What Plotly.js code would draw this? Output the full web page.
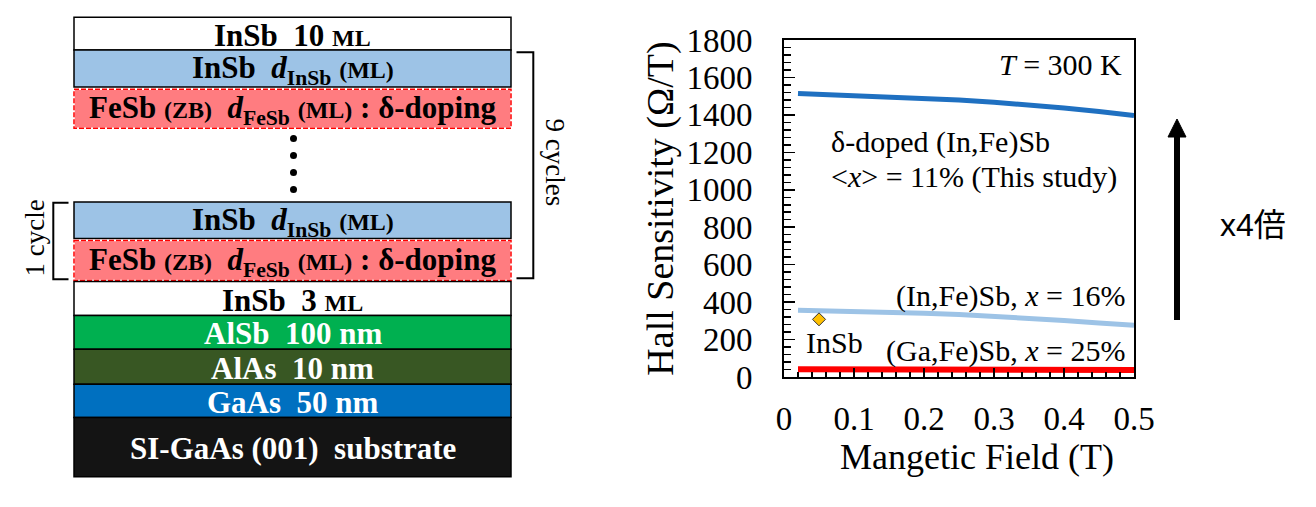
<!DOCTYPE html>
<html><head><meta charset="utf-8">
<script src="https://cdn.plot.ly/plotly-3.0.1.min.js"></script>
<style>html,body{margin:0;padding:0;background:#fff}#chart{width:1316px;height:507px}</style>
</head><body><div id="chart"></div>
<script>
// ---------- chart data ----------
const fieldT      = [0.02, 0.05, 0.1, 0.15, 0.2, 0.25, 0.3, 0.35, 0.4, 0.45, 0.5];
const deltaDoped  = [1514, 1510, 1504, 1497, 1489, 1479, 1467, 1453, 1437, 1418, 1396];
const inFeSb16    = [357, 355, 351, 347, 341, 334, 325, 314, 302, 289, 277];
const gaFeSb25    = [41, 41, 40, 40, 40, 39, 39, 38, 38, 37, 37];
const insbField   = [0.05];
const insbSens    = [308];
const yTickVals   = [0, 200, 400, 600, 800, 1000, 1200, 1400, 1600, 1800];
const xTickVals   = [0, 0.1, 0.2, 0.3, 0.4, 0.5];
const xTickText   = ['0', '0.1', '0.2', '0.3', '0.4', '0.5'];

// ---------- layer-stack labels ----------
const SM = "<span style='font-size:24px'>";
const layerLabels = [
  "<b>InSb\u00A0\u00A010 " + SM + "ML</span></b>",
  "<b>InSb\u00A0\u00A0<i>d</i><sub>InSb</sub> " + SM + "(ML)</span></b>",
  "<b>FeSb " + SM + "(ZB)</span>\u00A0\u00A0<i>d</i><sub>FeSb</sub> " + SM + "(ML)</span> : δ-doping</b>",
  "<b>InSb\u00A0\u00A0<i>d</i><sub>InSb</sub> " + SM + "(ML)</span></b>",
  "<b>FeSb " + SM + "(ZB)</span>\u00A0\u00A0<i>d</i><sub>FeSb</sub> " + SM + "(ML)</span> : δ-doping</b>",
  "<b>InSb\u00A0\u00A03 " + SM + "ML</span></b>",
  "<b>AlSb\u00A0\u00A0100 nm</b>",
  "<b>AlAs\u00A0\u00A010 nm</b>",
  "<b>GaAs\u00A0\u00A050 nm</b>",
  "<b>SI-GaAs (001)\u00A0\u00A0substrate</b>"
];
const layerFills      = ['#FFFFFF','#9DC3E6','#FF7C80','#9DC3E6','#FF7C80','#FFFFFF','#00B050','#385723','#0070C0','#141414'];
const layerTextColors = ['#000','#000','#000','#000','#000','#000','#FFF','#FFF','#FFF','#FFF'];
const layerDashed     = [false,false,true,false,true,false,false,false,false,false];

// ---------- geometry (pixels) ----------
const W = 1316, H = 507, L = 784, R = 1134, T = 40, B = 377;
const px = x => (x - L) / (R - L);
const py = y => (B - y) / (B - T);
const boxL = 74, boxR = 511;
const layerEdges = [[17.3,50],[50,87],[89.3,128.3],[202,238.5],[240.5,280.5],[281.5,315.5],[315.5,349.3],[349.3,384.3],[384.3,417.5],[417.5,476.7]];

const serif = "Liberation Serif";
const shapes = [];
const annotations = [];

layerEdges.forEach((e, i) => {
  if (layerDashed[i]) {
    shapes.push({type:'rect', xref:'paper', yref:'paper', x0:px(boxL), x1:px(boxR), y0:py(e[0]), y1:py(e[1]),
      fillcolor:layerFills[i], line:{color:'#FFFFFF', width:1.5}, layer:'above'});
    shapes.push({type:'rect', xref:'paper', yref:'paper', x0:px(boxL), x1:px(boxR), y0:py(e[0]), y1:py(e[1]),
      fillcolor:'rgba(0,0,0,0)', line:{color:'#FF0000', width:1.5, dash:'5px,2px'}, layer:'above'});
  } else {
    shapes.push({type:'rect', xref:'paper', yref:'paper', x0:px(boxL), x1:px(boxR), y0:py(e[0]), y1:py(e[1]),
      fillcolor:layerFills[i], line:{color:'#000000', width:1.5}, layer:'above'});
  }
  annotations.push({xref:'paper', yref:'paper', x:px((boxL+boxR)/2), y:py((e[0]+e[1])/2 + 1.5),
    text:layerLabels[i], showarrow:false, xanchor:'center', yanchor:'middle',
    font:{family:serif, size:31, color:layerTextColors[i]}});
});

// dots between cycles
[138.5, 155.5, 172.5, 189.5].forEach(yy => {
  shapes.push({type:'circle', xref:'paper', yref:'paper', x0:px(290), x1:px(297), y0:py(yy-3.5), y1:py(yy+3.5),
    fillcolor:'#000', line:{width:0}, layer:'above'});
});

// brackets
const pathOf = pts => pts.map((p, k) => (k ? 'L' : 'M') + px(p[0]) + ',' + py(p[1])).join(' ');
shapes.push({type:'path', xref:'paper', yref:'paper', path:pathOf([[516.5,52.3],[533.3,52.3],[533.3,278.3],[516.5,278.3]]),
  line:{color:'#000', width:2}, layer:'above'});
shapes.push({type:'path', xref:'paper', yref:'paper', path:pathOf([[68.5,202.7],[53.3,202.7],[53.3,279.3],[68.5,279.3]]),
  line:{color:'#000', width:2}, layer:'above'});
annotations.push({xref:'paper', yref:'paper', x:px(555), y:py(162.5), text:'9 cycles', textangle:90, showarrow:false,
  xanchor:'center', yanchor:'middle', font:{family:serif, size:27, color:'#000'}});
annotations.push({xref:'paper', yref:'paper', x:px(34), y:py(238.5), text:'1 cycle', textangle:-90, showarrow:false,
  xanchor:'center', yanchor:'middle', font:{family:serif, size:27, color:'#000'}});

// big arrow and x4倍
shapes.push({type:'line', xref:'paper', yref:'paper', x0:px(1177), x1:px(1177), y0:py(320), y1:py(134),
  line:{color:'#000', width:6}, layer:'above'});
shapes.push({type:'path', xref:'paper', yref:'paper', path:pathOf([[1168,137],[1186,137],[1177,119]]) + ' Z',
  fillcolor:'#000', line:{color:'#000', width:1}, layer:'above'});
annotations.push({xref:'paper', yref:'paper', x:px(1253), y:py(225), text:'x4倍', showarrow:false,
  xanchor:'center', yanchor:'middle',
  font:{family:"Liberation Sans, Noto Sans CJK JP", size:32, color:'#000'}});

// in-plot labels
const lab = (x, y, text, anchor) => annotations.push({xref:'paper', yref:'paper', x:px(x), y:py(y), text:text,
  showarrow:false, xanchor:anchor, yanchor:'middle', font:{family:serif, size:30, color:'#000'}});
lab(1124, 64, '<i>T</i> = 300 K', 'right');
lab(829, 142, 'δ-doped (In,Fe)Sb', 'left');
lab(829, 177, '&lt;<i>x</i>&gt; = 11% (This study)', 'left');
lab(1127, 296, '(In,Fe)Sb, <i>x</i> = 16%', 'right');
lab(804, 342, 'InSb', 'left');
lab(1127, 351, '(Ga,Fe)Sb, <i>x</i> = 25%', 'right');

const traces = [
  {x:fieldT, y:deltaDoped, mode:'lines', line:{color:'#1F70C1', width:5}, name:'δ-doped (In,Fe)Sb'},
  {x:fieldT, y:inFeSb16, mode:'lines', line:{color:'#9DC3E6', width:5}, name:'(In,Fe)Sb x=16%'},
  {x:fieldT, y:gaFeSb25, mode:'lines', line:{color:'#FF0000', width:6}, name:'(Ga,Fe)Sb x=25%'},
  {x:insbField, y:insbSens, mode:'markers', marker:{symbol:'diamond', size:10, color:'#FFC000', line:{color:'#333', width:1}}, name:'InSb'}
];

const layout = {
  width:W, height:H, showlegend:false,
  margin:{l:L, r:W-R, t:T, b:H-B, pad:0},
  paper_bgcolor:'#fff', plot_bgcolor:'#fff',
  font:{family:serif, color:'#000'},
  xaxis:{range:[0,0.5], tickvals:xTickVals, ticktext:xTickText, ticks:'inside', ticklen:9, tickwidth:1.5, tickcolor:'#000',
    minor:{dtick:0.02, ticks:'inside', ticklen:5, tickwidth:1.5, tickcolor:'#000'},
    showline:true, linecolor:'#000', linewidth:2, mirror:true, showgrid:false, zeroline:false,
    tickfont:{family:serif, size:33, color:'#000'}, ticklabelstandoff:11,
    title:{text:'<span>\u00A0\u00A0\u00A0\u00A0</span>Mangetic Field (T)', font:{family:serif, size:36, color:'#000'}, standoff:5}},
  yaxis:{range:[0,1800], tickvals:yTickVals, ticks:'inside', ticklen:11, tickwidth:1.5, tickcolor:'#000',
    minor:{dtick:40, ticks:'inside', ticklen:7, tickwidth:1.5, tickcolor:'#000'},
    showline:true, linecolor:'#000', linewidth:2, mirror:true, showgrid:false, zeroline:false,
    tickfont:{family:serif, size:33, color:'#000'}, ticklabelstandoff:23,
    title:{text:'Hall Sensitivity (Ω/T)', font:{family:serif, size:38, color:'#000'}, standoff:1}},
  shapes:shapes, annotations:annotations
};

Plotly.newPlot('chart', traces, layout, {displayModeBar:false, staticPlot:true});
</script></body></html>
